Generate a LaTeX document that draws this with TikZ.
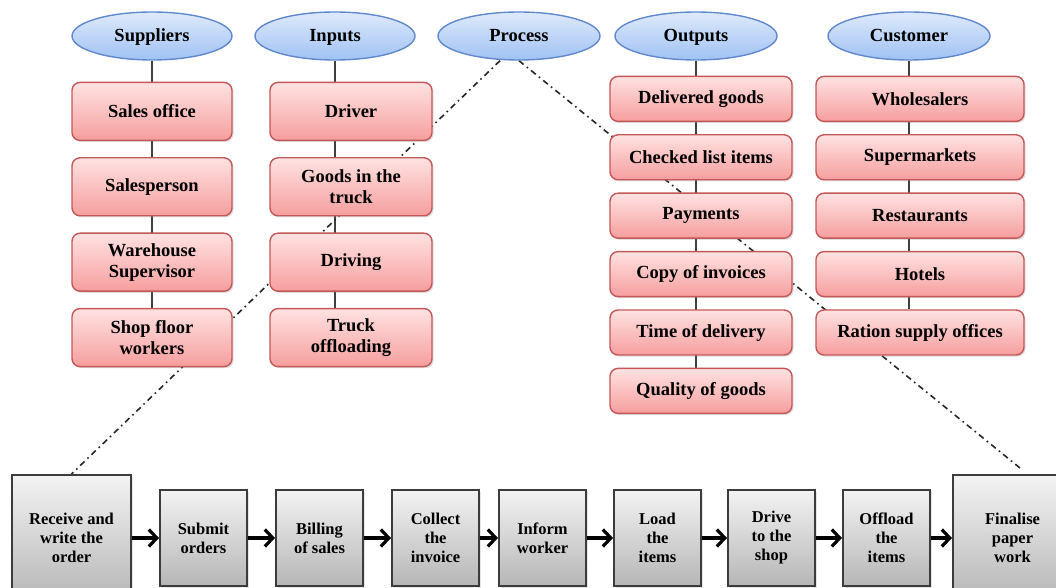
\documentclass[tikz,border=0pt]{standalone}
\usepackage{fontspec}
\setmainfont{Liberation Serif}
\usetikzlibrary{positioning,shapes.geometric,shadows,backgrounds,arrows.meta}

\definecolor{ellTop}{RGB}{222,234,252}
\definecolor{ellBot}{RGB}{160,194,244}
\definecolor{ellLine}{RGB}{96,136,204}
\definecolor{boxTop}{RGB}{255,226,226}
\definecolor{boxBot}{RGB}{246,158,158}
\definecolor{boxLine}{RGB}{196,88,88}
\definecolor{stepTop}{RGB}{243,243,243}
\definecolor{stepBot}{RGB}{182,182,182}
\definecolor{stepLine}{RGB}{60,60,60}

\tikzset{
  head/.style={ellipse,draw=ellLine,line width=0.7pt,top color=ellTop,bottom color=ellBot,
    minimum width=80pt,minimum height=24pt,text height=1.5ex,text depth=0.2ex,
    font=\fontsize{9.25}{11}\selectfont\bfseries},
  item/.style={rectangle,rounded corners=4pt,draw=boxLine,line width=0.7pt,top color=boxTop,
    bottom color=boxBot,align=center,minimum height=29pt,inner sep=2pt,
    font=\fontsize{9.25}{10.5}\selectfont\bfseries,
    drop shadow={opacity=0.25,shadow xshift=0.8pt,shadow yshift=-0.8pt}},
  wide/.style={item,minimum height=22.5pt},
  stepbox/.style={rectangle,draw=stepLine,line width=1pt,top color=stepTop,bottom color=stepBot,
    align=center,minimum width=43.5pt,minimum height=48pt,inner sep=1pt,
    font=\fontsize{8.25}{9.5}\selectfont\bfseries,
    drop shadow={opacity=0.2,shadow xshift=0.8pt,shadow yshift=-0.8pt}},
  bigstep/.style={stepbox,minimum width=59.5pt,minimum height=63pt},
  flow/.style={line width=1.6pt,-{Straight Barb[length=4pt,width=8.5pt,line width=1.6pt]}},
  link/.style={line width=0.7pt,draw=black!75},
  trace/.style={line width=0.8pt,draw=black!85,dash pattern=on 3pt off 2pt on 0.8pt off 2pt}
}

\begin{document}
\begin{tikzpicture}[x=0.5pt,y=-0.5pt]
\useasboundingbox (0,0) rectangle (1056,588);
% headings
\node[head] (sup) at (152,36) {Suppliers};
\node[head] (inp) at (335,36) {Inputs};
\node[head,minimum width=81pt] (proc) at (519,36) {Process};
\node[head,minimum width=81pt] (out) at (696,36) {Outputs};
\node[head,minimum width=81pt] (cus) at (909,36) {Customer};
% suppliers
\node[item,minimum width=80pt,below=10.5pt of sup] (sal) {Sales office};
\node[item,minimum width=80pt,below=8pt of sal] (per) {Salesperson};
\node[item,minimum width=80pt,below=8pt of per] (war) {Warehouse\\Supervisor};
\node[item,minimum width=80pt,below=8pt of war] (wrk) {Shop floor\\workers};
% inputs
\node[item,minimum width=81pt,below=10.5pt of inp,xshift=8pt] (drv) {Driver};
\node[item,minimum width=81pt,below=8pt of drv] (gds) {Goods in the\\truck};
\node[item,minimum width=81pt,below=8pt of gds] (dri) {Driving};
\node[item,minimum width=81pt,below=8pt of dri] (tro) {Truck\\offloading};
% outputs
\node[wide,minimum width=91pt,below=7.5pt of out,xshift=2.5pt] (dlv) {Delivered goods};
\node[wide,minimum width=91pt,below=6pt of dlv] (chk) {Checked list items};
\node[wide,minimum width=91pt,below=6pt of chk] (pay) {Payments};
\node[wide,minimum width=91pt,below=6pt of pay] (cpy) {Copy of invoices};
\node[wide,minimum width=91pt,below=6pt of cpy] (tim) {Time of delivery};
\node[wide,minimum width=91pt,below=6pt of tim] (qua) {Quality of goods};
% customers
\node[wide,minimum width=104pt,below=7.5pt of cus,xshift=5.5pt] (who) {Wholesalers};
\node[wide,minimum width=104pt,below=6pt of who] (sup2) {Supermarkets};
\node[wide,minimum width=104pt,below=6pt of sup2] (res) {Restaurants};
\node[wide,minimum width=104pt,below=6pt of res] (hot) {Hotels};
\node[wide,minimum width=104pt,below=6pt of hot] (rat) {Ration supply offices};
% process chain
\node[bigstep] (rec) at (71.5,538) {Receive and\\write the\\order};
\node[stepbox,right=13.5pt of rec] (sub) {Submit\\orders};
\node[stepbox,right=13.5pt of sub] (bil) {Billing\\of sales};
\node[stepbox,right=13.5pt of bil] (col) {Collect\\the\\invoice};
\node[stepbox,right=9pt of col] (inf) {Inform\\worker};
\node[stepbox,right=13pt of inf] (lod) {Load\\the\\items};
\node[stepbox,right=12.5pt of lod] (drs) {Drive\\to the\\shop};
\node[stepbox,right=13pt of drs] (off) {Offload\\the\\items};
\node[bigstep,right=10.5pt of off] (fin) {Finalise\\paper\\work};
\foreach \a/\b in {rec/sub,sub/bil,bil/col,col/inf,inf/lod,lod/drs,drs/off,off/fin}
  \draw[flow] (\a) -- (\b);
\begin{pgfonlayer}{background}
\draw[link] (sup.south) -- (sup.south |- wrk.north);
\draw[link] (inp.south) -- (inp.south |- tro.north);
\draw[link] (out.south) -- (out.south |- qua.north);
\draw[link] (cus.south) -- (cus.south |- rat.north);
\draw[trace] ([xshift=-9.5pt]proc.south) -- (rec.north);
\draw[trace] (proc.south) -- ([xshift=3.75pt,yshift=3pt]fin.north);
\end{pgfonlayer}
\end{tikzpicture}
\end{document}
